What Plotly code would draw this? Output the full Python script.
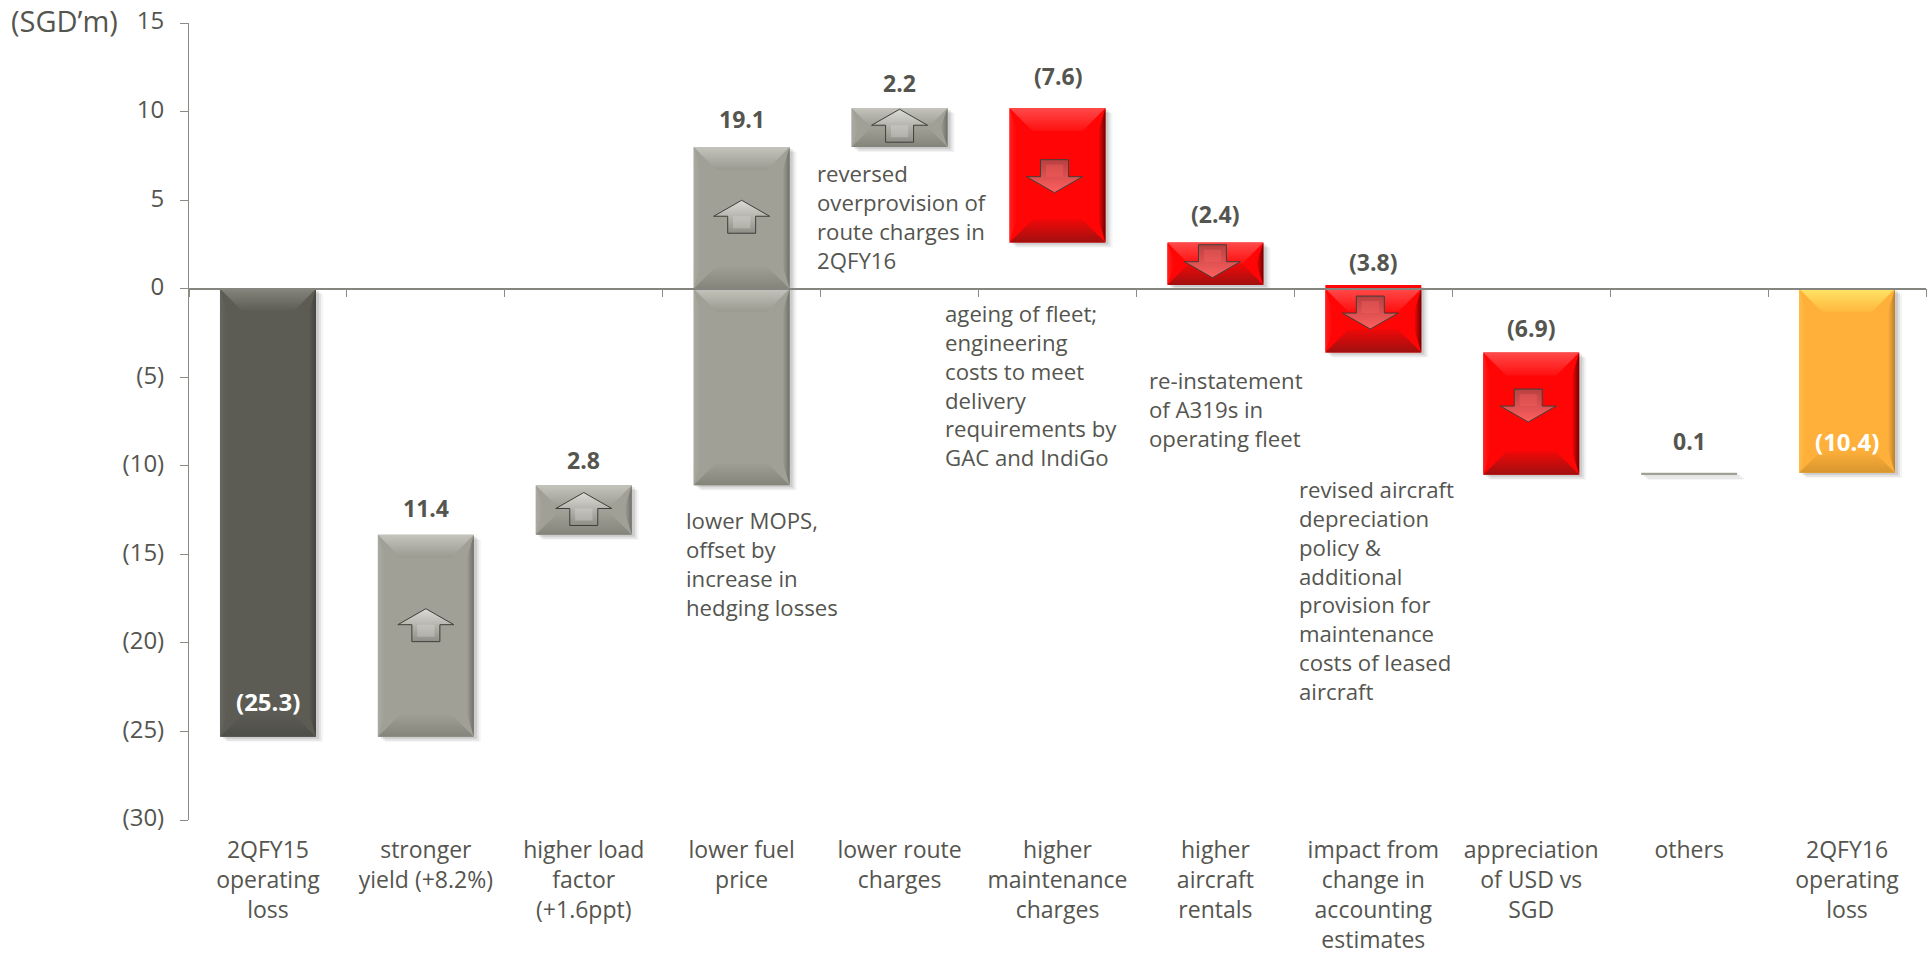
import plotly.graph_objects as go

# Operating profit bridge, 2QFY15 to 2QFY16 (SGD million)
categories = [
    "2QFY15<br>operating<br>loss", "stronger<br>yield (+8.2%)", "higher load<br>factor<br>(+1.6ppt)",
    "lower fuel<br>price", "lower route<br>charges", "higher<br>maintenance<br>charges",
    "higher<br>aircraft<br>rentals", "impact from<br>change in<br>accounting<br>estimates",
    "appreciation<br>of USD vs<br>SGD", "others", "2QFY16<br>operating<br>loss",
]
changes = [-25.3, 11.4, 2.8, 19.1, 2.2, -7.6, -2.4, -3.8, -6.9, 0.1, -10.4]
totals_at = [0, 10]
kinds = ["total", "up", "up", "up", "up", "down", "down", "down", "down", "up", "end"]
y_ticks = [15, 10, 5, 0, -5, -10, -15, -20, -25, -30]
y_tick_text = ["15", "10", "5", "0", "(5)", "(10)", "(15)", "(20)", "(25)", "(30)"]
arrow_levels = [None, -19.0, -12.44, 4.06, 9.2, 6.35, 1.55, -1.35, -6.6, None, None]
label_lift = [35, 27, 25, 28, 25, 32, 29, 23, 24, 32, 31]
notes = [
    (816, 173, "reversed<br>overprovision of<br>route charges in<br>2QFY16"),
    (944, 313, "ageing of fleet;<br>engineering<br>costs to meet<br>delivery<br>requirements by<br>GAC and IndiGo"),
    (685, 520, "lower MOPS,<br>offset by<br>increase in<br>hedging losses"),
    (1148, 380, "re-instatement<br>of A319s in<br>operating fleet"),
    (1298, 489, "revised aircraft<br>depreciation<br>policy &<br>additional<br>provision for<br>maintenance<br>costs of leased<br>aircraft"),
]

# Page geometry
W, H = 1928, 955
LEFT, RIGHT, TOP, BOTTOM = 188.5, 1926.5, 22.5, 820.0
Y_MIN, Y_MAX = -30, 15
X_MIN, X_MAX = -0.5, 10.5
PX_X = (RIGHT - LEFT) / (X_MAX - X_MIN)
PX_Y = (BOTTOM - TOP) / (Y_MAX - Y_MIN)
BAR_W = 96 / PX_X
TEXT = "#55554f"
FONT = "Open Sans"

palette = {
    "total": dict(body="#5c5c55", top=("#85857c", "#5c5c55"), bottom=("#5c5c55", "#4e4e48"),
                  left="#66665f", right="#44443f", arrow=None),
    "up": dict(body="#a0a097", top=("#c4c4bc", "#9a9a91"), bottom=("#a0a097", "#84847b"),
               left="#aaaaa2", right="#70706a", arrow=("#dcdcd6", "#8e8e86")),
    "down": dict(body="#ff0505", top=("#ff4a4a", "#ff1010"), bottom=("#f00808", "#a01010"),
                 left="#ff2020", right="#6a0404", arrow=("#ff6060", "#b84040")),
    "end": dict(body="#ffb03a", top=("#ffe566", "#ffb83e"), bottom=("#ffb03a", "#d8962e"),
                left="#ffbb48", right="#b88030", arrow=None),
}

# Running total gives the floating extent of each step
bases, running = [], 0.0
for i, change in enumerate(changes):
    if i in totals_at:
        running = 0.0
    bases.append(round(running, 1))
    running += change
tops = [max(b, b + c) for b, c in zip(bases, changes)]
lows = [min(b, b + c) for b, c in zip(bases, changes)]


def fmt(v):
    return f"({abs(v):.1f})" if v < 0 else f"{v:.1f}"


def paper_x(px):
    return (px - LEFT) / (RIGHT - LEFT)


def paper_y(px):
    return (BOTTOM - px) / (BOTTOM - TOP)


def polygon(xs, ys, colors, kind="vertical"):
    # Filled polygon in axis units with a two-stop gradient
    if colors[0] == colors[1]:
        style = dict(fillcolor=colors[0])
    else:
        style = dict(fillgradient=dict(type=kind, colorscale=[[0, colors[0]], [1, colors[1]]]))
    return go.Scatter(x=xs + xs[:1], y=ys + ys[:1], mode="lines", fill="toself",
                      line=dict(width=0), hoverinfo="skip", showlegend=False, **style)


fig = go.Figure()

# Soft drop shadow: stacked translucent copies of every bar
for dx, dy, alpha in [(7, 5, 0.05), (5, 4, 0.08), (3, 2, 0.12)]:
    fig.add_bar(x=list(range(len(changes))), y=changes,
                base=[b - dy / PX_Y for b in bases], width=BAR_W,
                offset=-BAR_W / 2 + dx / PX_X, marker=dict(color=f"rgba(40,40,40,{alpha})", line_width=0),
                hoverinfo="skip", showlegend=False)

# The bars themselves
fig.add_bar(x=list(range(len(changes))), y=changes, base=bases, width=BAR_W,
            marker=dict(color=[palette[k]["body"] for k in kinds], line_width=0),
            hoverinfo="skip", showlegend=False)

# Bevel facets: steps that cross zero are bevelled as two separate segments
for i, kind in enumerate(kinds):
    p = palette[kind]
    segments = [(lows[i], tops[i])]
    if lows[i] < 0 < tops[i]:
        segments = [(0, tops[i]), (lows[i], 0)]
    xl, xr = i - BAR_W / 2, i + BAR_W / 2
    for lo, hi in segments:
        height_px = (hi - lo) * PX_Y
        if height_px < 6:
            continue
        depth = min(23, height_px / 2)
        dy, dx = depth / PX_Y, depth / PX_X
        edge = 7 / PX_X
        fig.add_trace(polygon([xl, xl + edge, xl + edge, xl], [lo, lo + dy, hi - dy, hi], (p["left"], p["body"]), "horizontal"))
        fig.add_trace(polygon([xr, xr - edge, xr - edge, xr], [lo, lo + dy, hi - dy, hi], (p["body"], p["right"]), "horizontal"))
        fig.add_trace(polygon([xl, xr, xr - dx, xl + dx], [hi, hi, hi - dy, hi - dy], (p["top"][1], p["top"][0])))
        fig.add_trace(polygon([xl, xr, xr - dx, xl + dx], [lo, lo, lo + dy, lo + dy], (p["bottom"][1], p["bottom"][0])))

# Direction arrows inside the step bars
for i, (kind, level) in enumerate(zip(kinds, arrow_levels)):
    if level is None:
        continue
    sign = 1 if kind == "up" else -1
    half_w, half_s, half_h, neck = 28 / PX_X, 14 / PX_X, 16.5 / PX_Y, 0.5 / PX_Y
    cx = i + (0 if kind == "up" else -3 / PX_X)
    xs = [cx - half_s, cx - half_s, cx - half_w, cx, cx + half_w, cx + half_s, cx + half_s]
    ys = [level - sign * half_h, level + sign * neck, level + sign * neck, level + sign * half_h,
          level + sign * neck, level + sign * neck, level - sign * half_h]
    shade = palette[kind]["arrow"]
    arrow = polygon(xs, ys, (shade[1], shade[0]) if kind == "up" else shade)
    arrow.line = dict(width=1, color="#3f3f3a")
    fig.add_trace(arrow)
    inner = polygon([cx - half_s * 0.62, cx + half_s * 0.62, cx + half_s * 0.62, cx - half_s * 0.62],
                    [level - sign * half_h * 0.7, level - sign * half_h * 0.7, level + sign * neck, level + sign * neck],
                    (shade[0], shade[0]))
    inner.opacity = 0.35
    fig.add_trace(inner)

# Carrier trace for the zero-level axis
fig.add_trace(go.Scatter(x=[0], y=[0], xaxis="x2", mode="markers", marker=dict(opacity=0),
                         hoverinfo="skip", showlegend=False))

annotations = [dict(xref="paper", yref="paper", x=paper_x(8), y=paper_y(20), text="(SGD’m)", showarrow=False,
                    xanchor="left", yanchor="middle", font=dict(family=FONT, size=29, color=TEXT))]

# Value labels above each step, inside the bar for the two totals
for i, change in enumerate(changes):
    inside = i in totals_at
    annotations.append(dict(
        x=i, y=lows[i] if inside else tops[i], yshift=label_lift[i], text=f"<b>{fmt(change)}</b>",
        showarrow=False, xanchor="center", yanchor="middle",
        font=dict(family=FONT, size=24 if inside else 23, color="#ffffff" if inside else TEXT)))

# Explanatory notes beside the steps
for px, py, text in notes:
    annotations.append(dict(xref="paper", yref="paper", x=paper_x(px), y=paper_y(py - 16), text=text, showarrow=False,
                            xanchor="left", yanchor="top", align="left", borderpad=0,
                            font=dict(family=FONT, size=22.2, color=TEXT)))

fig.update_layout(
    width=W, height=H, autosize=False, barmode="overlay", showlegend=False,
    paper_bgcolor="#ffffff", plot_bgcolor="#ffffff",
    margin=dict(l=LEFT, r=W - RIGHT, t=TOP, b=H - BOTTOM, pad=0, autoexpand=False),
    font=dict(family=FONT, size=22, color=TEXT),
    annotations=annotations,
    xaxis=dict(range=[X_MIN, X_MAX], tickmode="array", tickvals=list(range(len(categories))), ticktext=categories,
               showgrid=False, zeroline=False, showline=False, ticks="", tickangle=0, ticklabelstandoff=14,
               automargin=False, tickfont=dict(family=FONT, size=23, color=TEXT)),
    xaxis2=dict(range=[X_MIN, X_MAX], overlaying="x", anchor="free", position=-Y_MIN / (Y_MAX - Y_MIN), side="bottom",
                tickmode="array", tickvals=[i - 0.5 for i in range(len(categories) + 1)], showticklabels=False,
                ticks="outside", ticklen=8, tickwidth=1, tickcolor="#8c8c86", automargin=False,
                showgrid=False, zeroline=False, showline=True, linecolor="#85857f", linewidth=1.5),
    yaxis=dict(range=[Y_MIN, Y_MAX], tickmode="array", tickvals=y_ticks, ticktext=y_tick_text,
               showgrid=False, zeroline=False, showline=True, linecolor="#8c8c86", linewidth=1,
               ticks="outside", ticklen=8, tickwidth=1, tickcolor="#8c8c86", ticklabelstandoff=11,
               automargin=False, ticklabelshift=-2, tickfont=dict(family=FONT, size=24, color=TEXT)),
)

fig.write_html("out.html", config=dict(displayModeBar=False))
